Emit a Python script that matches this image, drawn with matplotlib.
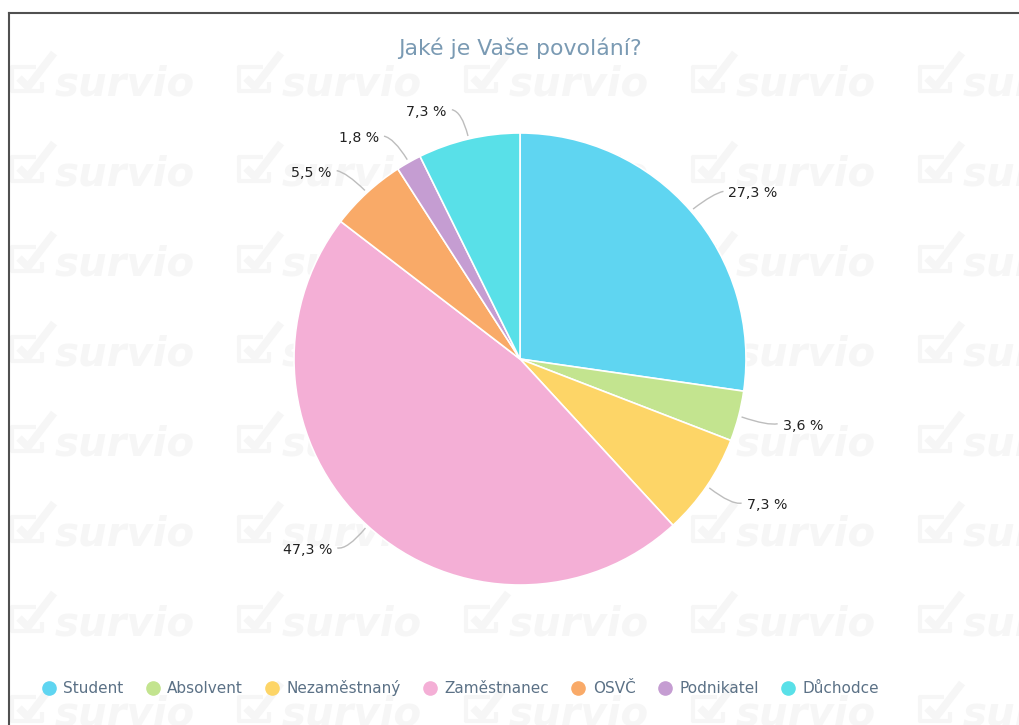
import matplotlib
matplotlib.use("Agg")
import matplotlib.pyplot as plt
from matplotlib.path import Path
from matplotlib.patches import PathPatch
from matplotlib.lines import Line2D
import numpy as np

categories = ["Student", "Absolvent", "Nezaměstnaný", "Zaměstnanec", "OSVČ", "Podnikatel", "Důchodce"]
values = [27.3, 3.6, 7.3, 47.3, 5.5, 1.8, 7.3]
labels = ["27,3 %", "3,6 %", "7,3 %", "47,3 %", "5,5 %", "1,8 %", "7,3 %"]
colors = ["#5fd5f1", "#c3e48f", "#fdd567", "#f4afd6", "#f9aa68", "#c59dd2", "#59e0e8"]
title = "Jaké je Vaše povolání?"

W, H = 1019, 725
fig = plt.figure(figsize=(W / 100, H / 100), dpi=100)
fig.patch.set_facecolor("white")

# background axes in pixel coordinates (watermark + frame)
bg = fig.add_axes([0, 0, 1, 1])
bg.set_xlim(0, W)
bg.set_ylim(H, 0)
bg.axis("off")
wm = "#f6f6f6"
for cx in range(12, W, 227):
    for by in range(95, H + 60, 90):
        bg.plot([cx + 24, cx, cx, cx + 30, cx + 30], [by - 28, by - 28, by - 4, by - 4, by - 13],
                color=wm, lw=3, solid_capstyle="butt", zorder=0)
        bg.plot([cx + 7, cx + 16, cx + 42], [by - 17, by - 8, by - 42],
                color=wm, lw=5.5, solid_capstyle="butt", zorder=0)
        bg.text(cx + 43, by, "survio", fontsize=29, fontweight="bold", fontstyle="italic",
                color=wm, ha="left", va="baseline", zorder=0)
# frame (top and left edges visible)
bg.plot([9, W + 5], [13, 13], color="#505050", lw=1.5, zorder=1)
bg.plot([9, 9], [13, H + 5], color="#505050", lw=1.5, zorder=1)

bg.text(520, 48, title, fontsize=15.8, color="#7a9ab3", ha="center", va="center", zorder=2)

# pie axes
cxp, cyp, R = 520, 359, 226
ax = fig.add_axes([(cxp - R) / W, 1 - (cyp + R) / H, 2 * R / W, 2 * R / H])
ax.axis("off")
ax.patch.set_alpha(0)
ax.pie(values, colors=colors, startangle=90, counterclock=False, radius=1,
       wedgeprops=dict(edgecolor="white", linewidth=1.2))
ax.set_xlim(-1, 1)
ax.set_ylim(-1, 1)
ax.set_aspect("auto")

sx = 1.0 / R  # data units per pixel
total = sum(values)
start = 90.0
for v, lab in zip(values, labels):
    mid = np.deg2rad(start - v / total * 360 / 2)
    start -= v / total * 360
    c, s = np.cos(mid), np.sin(mid)
    r1, r2 = 1.0 + 3 * sx, 1.0 + 30 * sx
    p0 = (r1 * c, r1 * s)
    pc = (r2 * c, r2 * s - 2 * sx)
    d = 10 * sx if c >= 0 else -10 * sx
    p2 = (pc[0] + d, pc[1] + 2 * sx)
    path = Path([p0, pc, p2], [Path.MOVETO, Path.CURVE3, Path.CURVE3])
    ax.add_patch(PathPatch(path, fill=False, edgecolor="#bdbdbd", lw=1, clip_on=False))
    tx = p2[0] + (5 * sx if c >= 0 else -5 * sx)
    ax.text(tx, p2[1] - 2 * sx, lab, fontsize=10.2, color="#222222",
            ha="left" if c >= 0 else "right", va="center", clip_on=False)

# legend
handles = [Line2D([0], [0], marker="o", linestyle="", markersize=9.5, markerfacecolor=col,
                  markeredgecolor=col) for col in colors]
leg = fig.legend(handles, categories, loc="center", bbox_to_anchor=(460 / W, 1 - 688 / H),
                 ncol=7, frameon=False, fontsize=11, handletextpad=0.45, columnspacing=1.4,
                 handlelength=1.0)
for t in leg.get_texts():
    t.set_color("#5b7186")

fig.savefig("out.png", dpi=100, facecolor="white")
